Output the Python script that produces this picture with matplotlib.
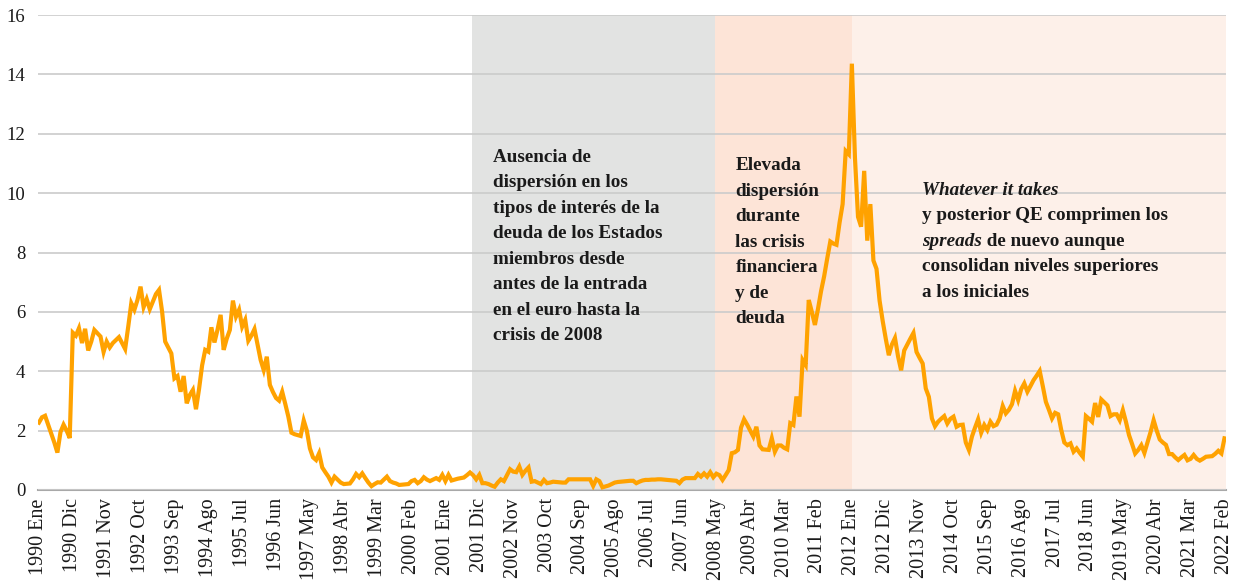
import matplotlib
matplotlib.use("Agg")
import matplotlib.pyplot as plt

# Datos mensuales: 1990 Ene - 2022 Feb (386 meses)
valores = [
    # 1990
    2.27, 2.45, 2.50, 2.20, 1.90, 1.60, 1.26, 1.95, 2.20, 2.00, 1.75, 5.30,
    # 1991
    5.20, 5.45, 4.95, 5.43, 4.70, 5.00, 5.39, 5.28, 5.17, 4.65, 5.00, 4.80,
    # 1992
    4.95, 5.05, 5.15, 4.95, 4.75, 5.50, 6.29, 6.07, 6.40, 6.85, 6.16, 6.43,
    # 1993
    6.09, 6.35, 6.60, 6.74, 6.01, 5.00, 4.80, 4.60, 3.76, 3.84, 3.31, 3.84,
    # 1994
    2.92, 3.20, 3.37, 2.72, 3.40, 4.20, 4.72, 4.66, 5.48, 4.97, 5.40, 5.90,
    # 1995
    4.72, 5.10, 5.39, 6.38, 5.84, 6.07, 5.50, 5.73, 5.03, 5.20, 5.42, 4.90,
    # 1996
    4.38, 4.04, 4.49, 3.54, 3.30, 3.10, 3.01, 3.31, 2.90, 2.47, 1.93, 1.88,
    # 1997
    1.85, 1.82, 2.34, 2.00, 1.40, 1.10, 1.01, 1.24, 0.76, 0.60, 0.45, 0.25,
    # 1998
    0.45, 0.35, 0.25, 0.20, 0.21, 0.22, 0.36, 0.54, 0.43, 0.56, 0.40, 0.25,
    # 1999
    0.13, 0.20, 0.26, 0.25, 0.35, 0.45, 0.30, 0.25, 0.22, 0.17, 0.18, 0.19,
    # 2000
    0.20, 0.30, 0.34, 0.23, 0.30, 0.43, 0.35, 0.30, 0.35, 0.40, 0.34, 0.51,
    # 2001
    0.30, 0.51, 0.32, 0.35, 0.38, 0.40, 0.42, 0.50, 0.59, 0.50, 0.36, 0.51,
    # 2002
    0.23, 0.23, 0.20, 0.15, 0.11, 0.25, 0.36, 0.30, 0.50, 0.70, 0.62, 0.60,
    # 2003
    0.79, 0.51, 0.65, 0.76, 0.28, 0.30, 0.25, 0.20, 0.34, 0.23, 0.25, 0.28,
    # 2004
    0.27, 0.26, 0.25, 0.25, 0.36, 0.36, 0.36, 0.36, 0.36, 0.36, 0.36, 0.36,
    # 2005
    0.14, 0.36, 0.30, 0.09, 0.12, 0.15, 0.20, 0.25, 0.27, 0.28, 0.29, 0.30,
    # 2006
    0.31, 0.31, 0.23, 0.28, 0.32, 0.34, 0.34, 0.35, 0.35, 0.36, 0.36, 0.35,
    # 2007
    0.34, 0.33, 0.32, 0.31, 0.23, 0.35, 0.40, 0.40, 0.40, 0.40, 0.54, 0.45,
    # 2008
    0.56, 0.45, 0.60, 0.43, 0.55, 0.50, 0.34, 0.50, 0.67, 1.24, 1.27, 1.35,
    # 2009
    2.10, 2.38, 2.20, 2.00, 1.80, 2.13, 1.50, 1.37, 1.36, 1.35, 1.74, 1.29,
    # 2010
    1.50, 1.50, 1.42, 1.37, 2.25, 2.19, 3.15, 2.47, 4.38, 4.21, 6.40, 6.00,
    # 2011
    5.56, 6.10, 6.70, 7.20, 7.80, 8.37, 8.30, 8.26, 9.00, 9.63, 11.42, 11.31,
    # 2012
    14.36, 11.20, 9.20, 8.87, 10.75, 8.40, 9.63, 7.73, 7.45, 6.38, 5.70, 5.10,
    # 2013
    4.54, 4.90, 5.12, 4.50, 4.03, 4.70, 4.90, 5.10, 5.29, 4.65, 4.45, 4.26,
    # 2014
    3.42, 3.14, 2.41, 2.15, 2.30, 2.40, 2.49, 2.24, 2.40, 2.47, 2.13, 2.19,
    # 2015
    2.20, 1.60, 1.35, 1.80, 2.10, 2.38, 1.93, 2.19, 2.02, 2.30, 2.15, 2.20,
    # 2016
    2.41, 2.83, 2.58, 2.70, 2.89, 3.34, 3.03, 3.40, 3.59, 3.31, 3.50, 3.70,
    # 2017
    3.85, 4.01, 3.50, 2.97, 2.70, 2.41, 2.60, 2.55, 2.02, 1.60, 1.51, 1.57,
    # 2018
    1.29, 1.40, 1.25, 1.12, 2.49, 2.40, 2.30, 2.93, 2.46, 3.05, 2.95, 2.85,
    # 2019
    2.49, 2.55, 2.55, 2.35, 2.69, 2.30, 1.85, 1.55, 1.23, 1.35, 1.51, 1.25,
    # 2020
    1.60, 1.95, 2.35, 2.00, 1.70, 1.60, 1.52, 1.21, 1.21, 1.10, 1.01, 1.10,
    # 2021
    1.18, 1.00, 1.05, 1.18, 1.05, 0.99, 1.05, 1.12, 1.13, 1.14, 1.22, 1.32,
    # 2022
    1.23, 1.74,
]

etiquetas = ["1990 Ene", "1990 Dic", "1991 Nov", "1992 Oct", "1993 Sep",
             "1994 Ago", "1995 Jul", "1996 Jun", "1997 May", "1998 Abr",
             "1999 Mar", "2000 Feb", "2001 Ene", "2001 Dic", "2002 Nov",
             "2003 Oct", "2004 Sep", "2005 Ago", "2006 Jul", "2007 Jun",
             "2008 May", "2009 Abr", "2010 Mar", "2011 Feb", "2012 Ene",
             "2012 Dic", "2013 Nov", "2014 Oct", "2015 Sep", "2016 Ago",
             "2017 Jul", "2018 Jun", "2019 May", "2020 Abr", "2021 Mar",
             "2022 Feb"]

# periodos sombreados (indice de mes)
periodos = [(140.7, 219.6, "#e2e3e2"), (219.6, 264.1, "#fde4d7"), (264.1, 385.5, "#fdf0e9")]

fuente = "Liberation Serif"
plt.rcParams["font.family"] = fuente

fig = plt.figure(figsize=(12.45, 5.87), dpi=100)
ax = fig.add_axes([38 / 1245, 1 - 490 / 587, (1226 - 38) / 1245, (490 - 15) / 587])

meses = list(range(len(valores)))
for ini, fin, col in periodos:
    ax.axvspan(ini, fin, color=col, lw=0, zorder=0)

ax.plot(meses, valores, color="#ffa200", lw=3.0, zorder=3, solid_joinstyle="miter")

ax.set_xlim(-0.3, 385.5)
ax.set_ylim(0, 16)
ax.set_yticks(range(0, 17, 2))
ax.set_xticks(range(0, 386, 11))
ax.set_xticklabels(etiquetas, rotation=90, fontsize=14.5)
ax.tick_params(axis="y", length=0, labelsize=13.5, colors="#1a1a1a", pad=9)
ax.tick_params(axis="x", length=0, colors="#1a1a1a", pad=6)
ax.grid(axis="y", color="#cbcbcb", lw=1.2, zorder=1)
ax.set_axisbelow(False)
for s in ["top", "left", "right"]:
    ax.spines[s].set_visible(False)
ax.spines["bottom"].set_color("#a8a8a8")
ax.spines["bottom"].set_linewidth(1.5)

fs = 13.8
kw = dict(fontsize=fs, fontweight="bold", color="#1a1a1a", va="baseline", zorder=4)

texto1 = ["Ausencia de", "dispersión en los", "tipos de interés de la",
          "deuda de los Estados", "miembros desde", "antes de la entrada",
          "en el euro hasta la", "crisis de 2008"]
for i, t in enumerate(texto1):
    ax.text(147.4, 11.05 - i * 0.857, t, **kw)

texto2 = ["Elevada", "dispersión", "durante", "las crisis", "financiera",
          "y de", "deuda"]
for i, t in enumerate(texto2):
    ax.text(226.2, 10.78 - i * 0.86, t, **kw)

x3 = 286.8
y3 = 9.94
paso = 0.857
ax.text(x3, y3, "Whatever it takes", style="italic", **kw)
ax.text(x3, y3 - paso, "y posterior QE comprimen los", **kw)
t_sp = ax.text(x3, y3 - 2 * paso, "spreads", style="italic", **kw)
ax.annotate(" de nuevo aunque", xy=(1, 0), xycoords=t_sp, ha="left", va="bottom",
            fontsize=fs, fontweight="bold", color="#1a1a1a", zorder=4)
ax.text(x3, y3 - 3 * paso, "consolidan niveles superiores", **kw)
ax.text(x3, y3 - 4 * paso, "a los iniciales", **kw)

fig.savefig("out.png", dpi=100)
